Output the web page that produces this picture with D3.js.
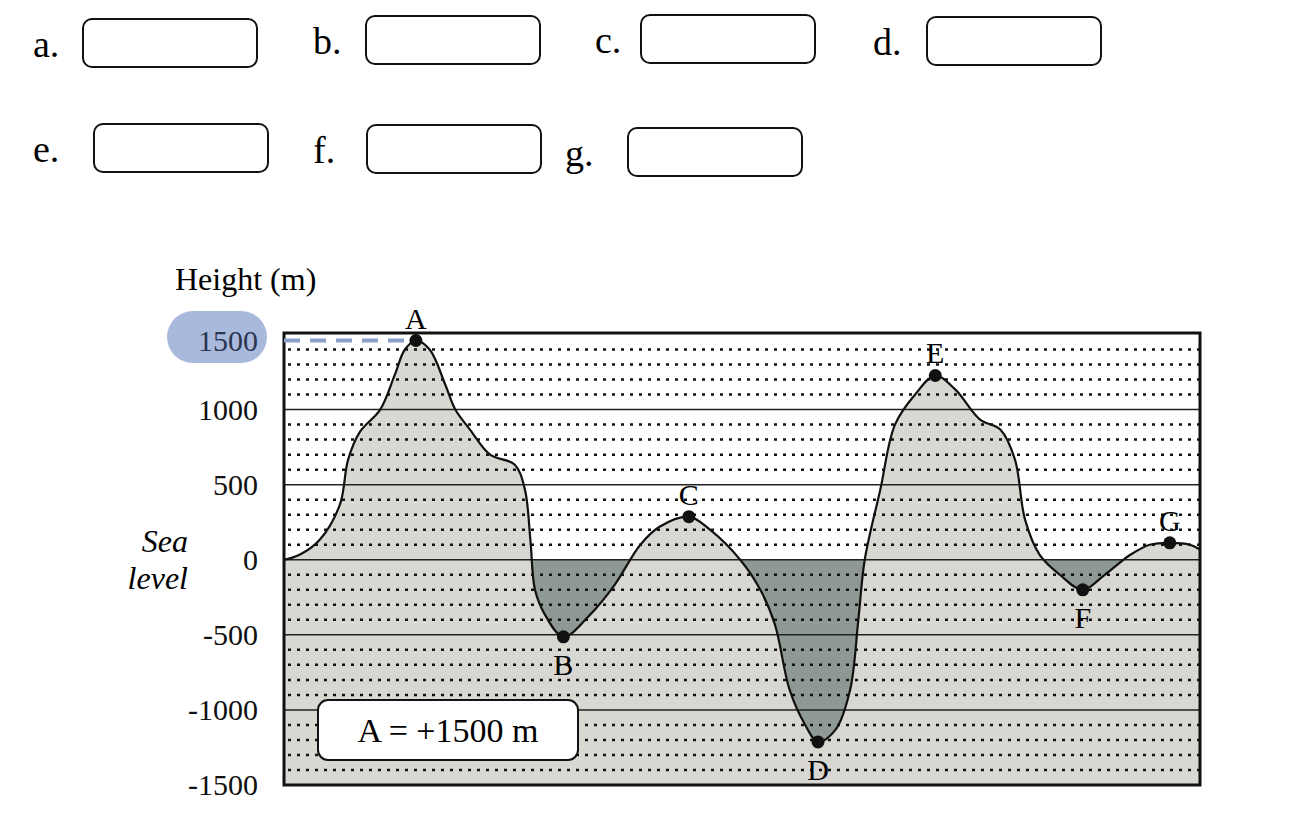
<!DOCTYPE html><html><head><meta charset="utf-8"><script src="https://cdn.jsdelivr.net/npm/d3@7"></script>
<style>body{margin:0;background:#fff}</style></head><body><svg id="c" width="1296" height="830"></svg>
<script>
const answerLabels=["a.","b.","c.","d.","e.","f.","g."];
const yTicks=[1500,1000,500,0,-500,-1000,-1500];
const profileX=[0,1.7,3.9,6.1,7.0,8.3,10.5,12.1,13.2,14.4,15.9,17.6,18.7,20.3,22.5,25.2,26.3,26.9,27.4,28.5,30.5,33.4,36.1,38.9,41.0,44.2,46.5,49.8,52.0,53.6,55.2,56.9,58.3,60.2,61.8,62.7,63.4,65.1,66.7,68.9,71.1,73.3,76.0,78.2,79.8,80.9,82.5,84.7,87.2,89.6,92.4,94.5,96.7,98.9,100];
const profileH=[0,33,133,367,667,853,1000,1233,1400,1460,1400,1167,1000,867,700,633,467,133,-200,-367,-513,-367,-167,100,220,287,200,0,-200,-433,-867,-1100,-1213,-1133,-867,-400,0,467,900,1100,1227,1133,933,867,667,267,33,-100,-200,-100,33,100,113,100,67];
const pointNames=["A","B","C","D","E","F","G"];
const pointIdx=[9,20,25,32,40,48,52];
const legendText="A = +1500 m";

const svg=d3.select("#c");
const F="'Liberation Serif','DejaVu Serif',serif";
// answer boxes
const boxPos=[[33,83,19],[313,366,16],[595,641,15],[873,927,17],[33,94,124],[313,367,125],[565,628,128]];
answerLabels.forEach((t,i)=>{const [tx,bx,by]=boxPos[i];
 svg.append("text").attr("x",tx).attr("y",by+38).attr("font-family",F).attr("font-size",38).text(t);
 svg.append("rect").attr("x",bx).attr("y",by).attr("width",174).attr("height",48).attr("rx",9).attr("fill","#fff").attr("stroke","#111").attr("stroke-width",2);});

const L=284,R=1200,T=333,B=785;
const x=d3.scaleLinear().domain([0,100]).range([L,R]);
const y=d3.scaleLinear().domain([-1500,1510]).range([B,T]);
svg.append("rect").attr("x",L).attr("y",T).attr("width",R-L).attr("height",y(0)-T).attr("fill","#fff");
svg.append("rect").attr("x",L).attr("y",y(0)).attr("width",R-L).attr("height",B-y(0)).attr("fill","#8f9994");
const pts=profileX.map((d,i)=>[d,profileH[i]]);
const curve=d3.curveCatmullRom.alpha(0.5);
svg.append("path").datum(pts).attr("d",d3.area().x(d=>x(d[0])).y0(B).y1(d=>y(d[1])).curve(curve)).attr("fill","#d8d7d2");
// grid
const g=svg.append("g");
for(let v=-1400;v<=1500;v+=100){ if(v%500===0) continue;
 g.append("line").attr("x1",L+4).attr("x2",R).attr("y1",y(v)).attr("y2",y(v)).attr("stroke","#111").attr("stroke-width",2.5).attr("stroke-dasharray","3,6");}
[1000,500,0,-500,-1000].forEach(v=>g.append("line").attr("x1",L).attr("x2",R).attr("y1",y(v)).attr("y2",y(v)).attr("stroke","#222").attr("stroke-width",1.5));
svg.append("path").datum(pts).attr("d",d3.line().x(d=>x(d[0])).y(d=>y(d[1])).curve(curve)).attr("fill","none").attr("stroke","#111").attr("stroke-width",2.2);
svg.append("rect").attr("x",L).attr("y",T).attr("width",R-L).attr("height",B-T).attr("fill","none").attr("stroke","#111").attr("stroke-width",3);
// highlight
svg.append("rect").attr("x",167).attr("y",311).attr("width",100).attr("height",52).attr("rx",26).attr("fill","#a9b9dc");
svg.append("line").attr("x1",L).attr("x2",x(profileX[9])).attr("y1",y(profileH[9])).attr("y2",y(profileH[9])).attr("stroke","#8a9ecb").attr("stroke-width",4).attr("stroke-dasharray","16,10");
// ticks
yTicks.forEach(v=>svg.append("text").attr("x",258).attr("y",(v===1500?y(1460):y(v))+10).attr("text-anchor","end").attr("font-family",F).attr("font-size",30).attr("fill",v===1500?"#2b3550":"#111").text(v));
svg.append("text").attr("x",175).attr("y",290).attr("font-family",F).attr("font-size",32).text("Height (m)");
svg.append("text").attr("x",188).attr("y",552).attr("text-anchor","end").attr("font-family",F).attr("font-style","italic").attr("font-size",32).text("Sea");
svg.append("text").attr("x",188).attr("y",589).attr("text-anchor","end").attr("font-family",F).attr("font-style","italic").attr("font-size",32).text("level");
// points
pointIdx.forEach((k,i)=>{const px=x(profileX[k]),py=y(profileH[k]);
 svg.append("circle").attr("cx",px).attr("cy",py).attr("r",6.5).attr("fill","#111");
 const below=profileH[k]<0;
 svg.append("text").attr("x",px).attr("y",below?py+38:py-12).attr("text-anchor","middle").attr("font-family",F).attr("font-size",30).text(pointNames[i]);});
// legend
svg.append("rect").attr("x",318).attr("y",700).attr("width",260).attr("height",60).attr("rx",10).attr("fill","#fff").attr("stroke","#111").attr("stroke-width",2);
svg.append("text").attr("x",448).attr("y",742).attr("text-anchor","middle").attr("font-family",F).attr("font-size",34).text(legendText);
</script></body></html>
